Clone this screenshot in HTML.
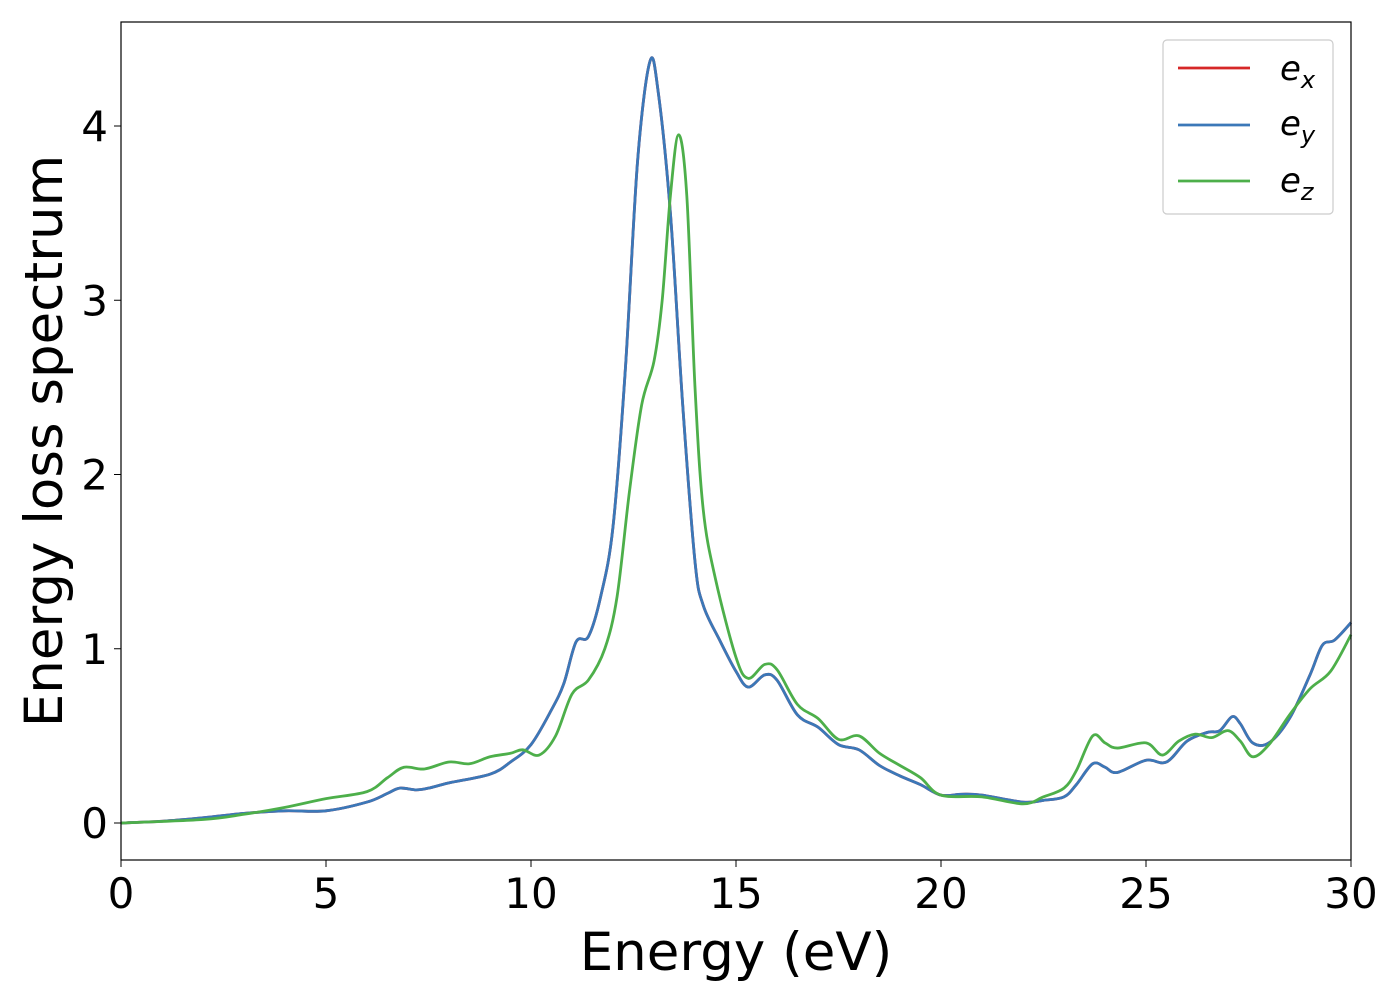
<!DOCTYPE html>
<html><head><meta charset="utf-8"><style>
html,body{margin:0;padding:0;background:#fff}
svg{display:block;font-family:"DejaVu Sans","Liberation Sans",sans-serif}
</style></head><body>
<svg id="chart" width="1400" height="1000" viewBox="0 0 1400 1000" xmlns="http://www.w3.org/2000/svg">
<rect width="1400" height="1000" fill="#fff"/>
<g id="marks"></g>
<rect x="121" y="22" width="1230" height="838" fill="none" stroke="#000" stroke-width="1.2"/>
<g id="xticks"></g>
<g id="yticks"></g>
<text x="736" y="970" font-size="53" text-anchor="middle">Energy (eV)</text>
<text transform="translate(62,441) rotate(-90)" font-size="53" text-anchor="middle">Energy loss spectrum</text>
<g>
<rect x="1163" y="40" width="170" height="174" rx="4" fill="#fff" stroke="#ccc" stroke-width="1.2"/>
<g><line x1="1178" y1="68" x2="1250" y2="68" stroke="#d62728" stroke-width="2.8"/><text x="1280" y="80" font-size="34" font-style="italic">e<tspan font-size="24" dy="8">x</tspan></text></g>
<g><line x1="1178" y1="125" x2="1250" y2="125" stroke="#3b78b8" stroke-width="2.8"/><text x="1280" y="135" font-size="34" font-style="italic">e<tspan font-size="24" dy="8">y</tspan></text></g>
<g><line x1="1178" y1="181" x2="1250" y2="181" stroke="#4daf4a" stroke-width="2.8"/><text x="1280" y="192" font-size="34" font-style="italic">e<tspan font-size="24" dy="8">z</tspan></text></g>
</g>
</svg>
<script>
const xTicks=[0,5,10,15,20,25,30];
const yTicks=[0,1,2,3,4];
const exX=[0,1,2,3,4,5,6,6.5,6.8,7.2,7.5,8,9,9.5,10,10.5,10.8,11.1,11.4,11.7,12,12.3,12.6,12.9,13.1,13.4,13.7,14,14.2,14.6,15,15.3,15.7,16,16.5,17,17.5,18,18.5,19,19.5,20,20.5,21,22,22.5,23,23.3,23.7,24,24.3,25,25.5,26,26.5,26.8,27.1,27.3,27.6,28,28.5,29,29.3,29.6,30];
const exY=[0,0.01,0.03,0.055,0.07,0.07,0.12,0.17,0.2,0.19,0.2,0.23,0.28,0.35,0.45,0.65,0.8,1.04,1.07,1.3,1.7,2.6,3.8,4.37,4.2,3.5,2.4,1.5,1.25,1.05,0.87,0.78,0.85,0.82,0.62,0.55,0.45,0.42,0.33,0.27,0.22,0.16,0.165,0.16,0.12,0.13,0.15,0.22,0.34,0.32,0.29,0.36,0.35,0.47,0.52,0.53,0.61,0.57,0.46,0.46,0.6,0.85,1.02,1.05,1.15];
const eyY=exY.slice();
const ezX=[0,2,3,4,5,6,6.5,6.9,7.4,8,8.5,9,9.5,9.8,10.2,10.6,11,11.4,11.8,12.1,12.4,12.7,13,13.2,13.4,13.6,13.8,14,14.2,14.5,15,15.3,15.7,16,16.5,17,17.5,18,18.5,19,19.5,20,21,22,22.5,23,23.3,23.7,24,24.3,25,25.4,25.8,26.2,26.6,27,27.3,27.6,28,28.5,29,29.5,30];
const ezY=[0,0.02,0.05,0.09,0.14,0.18,0.26,0.32,0.31,0.35,0.34,0.38,0.4,0.42,0.39,0.5,0.74,0.82,1.0,1.3,1.9,2.4,2.65,3.0,3.6,3.95,3.6,2.5,1.8,1.4,0.95,0.83,0.91,0.88,0.68,0.6,0.48,0.5,0.4,0.33,0.26,0.16,0.15,0.11,0.15,0.2,0.3,0.5,0.46,0.43,0.46,0.39,0.47,0.51,0.49,0.53,0.47,0.38,0.45,0.62,0.77,0.87,1.08];

const X0=121,X1=1351,Y0=823,YS=174.25;
const sx=v=>X0+(v/30)*(X1-X0);
const sy=v=>Y0-v*YS;
const NS="http://www.w3.org/2000/svg";
function pathD(xs,ys){
  const p=xs.map((x,i)=>[sx(x),sy(ys[i])]);
  let d=`M${p[0][0]},${p[0][1]}`;
  for(let i=0;i<p.length-1;i++){
    const a=p[i-1]||p[i],b=p[i],c=p[i+1],e=p[i+2]||c;
    const c1=[b[0]+(c[0]-a[0])/6,b[1]+(c[1]-a[1])/6];
    const c2=[c[0]-(e[0]-b[0])/6,c[1]-(e[1]-b[1])/6];
    d+=`C${c1[0]},${c1[1]} ${c2[0]},${c2[1]} ${c[0]},${c[1]}`;
  }
  return d;
}
const marks=document.getElementById('marks');
function addLine(xs,ys,color,name){
  const el=document.createElementNS(NS,'path');
  el.setAttribute('d',pathD(xs,ys));
  el.setAttribute('fill','none');
  el.setAttribute('stroke',color);
  el.setAttribute('stroke-width','2.8');
  
  
  marks.appendChild(el);
}
addLine(exX,exY,'#d62728','line-ex');
addLine(exX,eyY,'#3b78b8','line-ey');
addLine(ezX,ezY,'#4daf4a','line-ez');

const xg=document.getElementById('xticks');
xTicks.forEach(t=>{
  const l=document.createElementNS(NS,'line');
  l.setAttribute('x1',sx(t));l.setAttribute('x2',sx(t));l.setAttribute('y1',860);l.setAttribute('y2',867);
  l.setAttribute('stroke','#000');
  
  
  xg.appendChild(l);
  const tx=document.createElementNS(NS,'text');
  tx.setAttribute('x',sx(t));tx.setAttribute('y',908);tx.setAttribute('font-size','42');tx.setAttribute('text-anchor','middle');
  tx.textContent=t;
  
  
  xg.appendChild(tx);
});
const yg=document.getElementById('yticks');
yTicks.forEach(t=>{
  const l=document.createElementNS(NS,'line');
  l.setAttribute('x1',114);l.setAttribute('x2',121);l.setAttribute('y1',sy(t));l.setAttribute('y2',sy(t));
  l.setAttribute('stroke','#000');
  
  
  yg.appendChild(l);
  const tx=document.createElementNS(NS,'text');
  tx.setAttribute('x',108);tx.setAttribute('y',sy(t)+15);tx.setAttribute('font-size','42');tx.setAttribute('text-anchor','end');
  tx.textContent=t;
  
  
  yg.appendChild(tx);
});
</script>
</body></html>
